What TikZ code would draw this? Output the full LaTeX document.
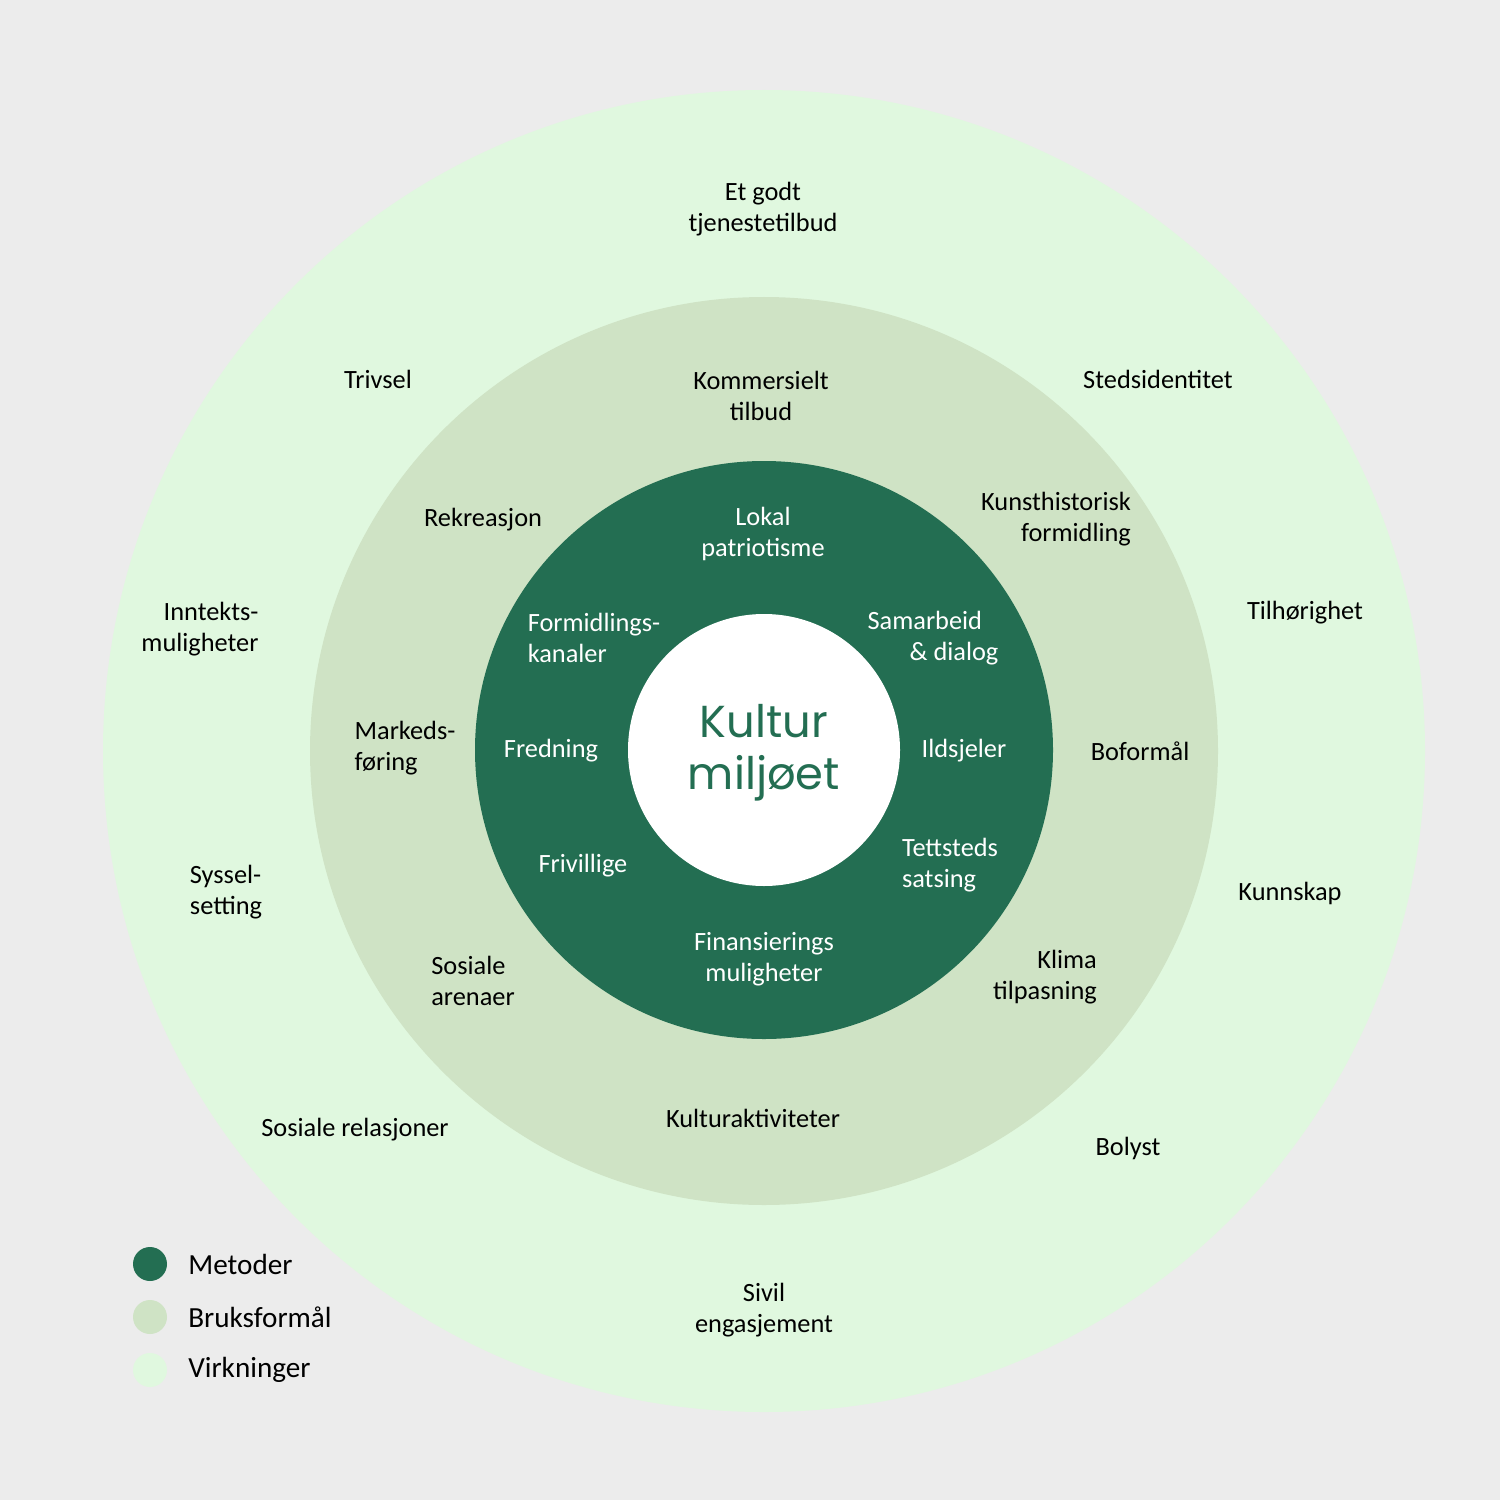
\documentclass[tikz,border=0pt]{standalone}
\usepackage{fontspec}
\setmainfont{Carlito}
\newfontfamily\titlefont{Poppins}
\definecolor{bg}{HTML}{ECECEC}
\definecolor{outerc}{HTML}{E0F8DF}
\definecolor{midc}{HTML}{CFE3C5}
\definecolor{darkc}{HTML}{236E52}
\newlength{\pxu}\setlength{\pxu}{0.02cm}
\tikzset{
  lbl/.style={font=\fontsize{15}{17.6}\selectfont, text=black, inner sep=0pt, yshift=-2\pxu},
  wlbl/.style={lbl, text=white},
  legtxt/.style={font=\fontsize{16.6}{20}\selectfont, text=black, inner sep=0pt, anchor=west},
  legdot/.style={circle, minimum size=34\pxu, inner sep=0pt},
}
\begin{document}
\begin{tikzpicture}[x=0.02cm,y=-0.02cm]
\fill[bg] (0,0) rectangle (1500,1500);
\useasboundingbox (0,0) rectangle (1500,1500);
\fill[outerc] (764,751) circle[radius=661];
\fill[midc] (764,751) circle[radius=454];
\fill[darkc] (764,750) circle[radius=289];
\fill[white] (764,750) circle[radius=136];
\node[font=\titlefont\fontsize{25.5}{29.6}\selectfont, text=darkc, align=center, inner sep=0pt] (center) at (764,753) {Kultur\\miljøet};
% outer ring
\node[lbl, align=center] (tjeneste) at (763,207) {Et godt\\tjenestetilbud};
\node[lbl] (trivsel) at (378,377) {Trivsel};
\node[lbl] (steds) at (1158,377) {Stedsidentitet};
\node[lbl, align=right] (inntekt) at (200,627) {Inntekts-\\muligheter};
\node[lbl] (tilhor) at (1305,611) {Tilhørighet};
\node[lbl, align=left] (syssel) at (226,890) {Syssel-\\setting};
\node[lbl] (kunnskap) at (1290,891) {Kunnskap};
\node[lbl] (relasjon) at (355,1128) {Sosiale relasjoner};
\node[lbl] (bolyst) at (1128,1146) {Bolyst};
\node[lbl, align=center] (sivil) at (764,1308) {Sivil\\engasjement};
% middle ring
\node[lbl, align=center] (kommers) at (761,394) {Kommersielt\\tilbud};
\node[lbl, align=right] (kunst) at (1056,517) {Kunsthistorisk\\formidling};
\node[lbl] (rekreasjon) at (483,518) {Rekreasjon};
\node[lbl, align=left] (markeds) at (405,746) {Markeds-\\føring};
\node[lbl] (boformal) at (1140,749) {Boformål};
\node[lbl, align=left] (sosiale) at (473,979) {Sosiale\\arenaer};
\node[lbl, align=right] (klima) at (1045,975) {Klima\\tilpasning};
\node[lbl] (kulturakt) at (753,1116) {Kulturaktiviteter};
% inner ring
\node[wlbl, align=center] (lokal) at (763,532) {Lokal\\patriotisme};
\node[wlbl, align=left] (formidl) at (594,636) {Formidlings-\\kanaler};
\node[wlbl, align=left] (samarb) at (933,636) {Samarbeid\\\hspace*{42\pxu}\& dialog};
\node[wlbl] (fredning) at (551,749) {Fredning};
\node[wlbl] (ildsjel) at (964,749) {Ildsjeler};
\node[wlbl] (frivil) at (583,864) {Frivillige};
\node[wlbl, align=left] (tettst) at (950,863) {Tettsteds\\satsing};
\node[wlbl, align=center] (finans) at (764,957) {Finansierings\\muligheter};
% legend
\node[legdot, fill=darkc] (d1) at (150,1264) {};
\node[legdot, fill=midc] (d2) at (150,1317) {};
\node[legdot, fill=outerc] (d3) at (150,1370) {};
\node[legtxt] (t1) at (188,1264) {Metoder};
\node[legtxt] (t2) at (188,1317) {Bruksformål};
\node[legtxt] (t3) at (188,1370) {Virkninger};
\end{tikzpicture}
\end{document}
